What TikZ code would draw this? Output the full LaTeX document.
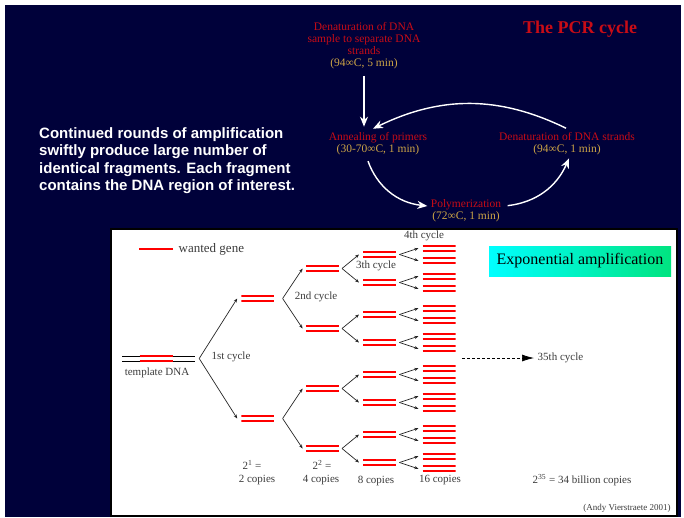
\documentclass[tikz,border=0pt]{standalone}
\usepackage{fontspec}
\setmainfont{Liberation Serif}
\newfontfamily\arialfont{Liberation Sans}
\usepackage{tikz}
\usetikzlibrary{shapes,arrows.meta,positioning}
\definecolor{navy}{RGB}{0,1,58}
\definecolor{pcrred}{RGB}{200,12,22}
\definecolor{gold}{RGB}{205,165,70}
\definecolor{ink}{RGB}{60,60,60}
\definecolor{expgreen}{RGB}{0,228,128}
\newcommand{\heat}[1]{\textcolor{gold}{#1}}

\tikzset{
  gene/.style={minimum width=33pt,minimum height=9pt,inner sep=0pt,
    path picture={
      \draw[red,line width=2.3pt] ([yshift=2.5pt]path picture bounding box.west) -- ([yshift=2.5pt]path picture bounding box.east);
      \draw[red,line width=2.3pt] ([yshift=-2.5pt]path picture bounding box.west) -- ([yshift=-2.5pt]path picture bounding box.east);
    }},
  tpl/.style={minimum width=73pt,minimum height=9pt,inner sep=0pt,
    path picture={
      \draw[black,line width=0.9pt] ([yshift=2.5pt]path picture bounding box.west) -- ([yshift=2.5pt]path picture bounding box.east);
      \draw[black,line width=0.9pt] ([yshift=-2.5pt]path picture bounding box.west) -- ([yshift=-2.5pt]path picture bounding box.east);
      \draw[red,line width=2.3pt] ([shift={(-19pt,2.5pt)}]path picture bounding box.center) -- ++(33pt,0pt);
      \draw[red,line width=2.3pt] ([shift={(-19pt,-2.5pt)}]path picture bounding box.center) -- ++(33pt,0pt);
    }},
  fork/.style={draw=black!85,line width=0.7pt,-{Stealth[length=4pt,width=3.2pt]}},
  cyc/.style={draw=white,line width=1.4pt,-{Stealth[length=10pt,width=8pt]}},
  cyclestep/.style={text=pcrred,align=center,font=\fontsize{11.5}{12}\selectfont},
  lbl/.style={text=ink,inner sep=0.5pt},
  expbox/.style={left color=cyan,right color=expgreen,minimum width=182pt,minimum height=30pt,
    font=\fontsize{16}{18}\selectfont,text=black}
}

\begin{document}
\begin{tikzpicture}[x=1pt,y=-1pt,font=\fontsize{11}{12}\selectfont]
  % slide background
  \fill[white] (0,0) rectangle (684,517);
  \fill[navy] (5,5) rectangle (681,517);

  % PCR cycle
  \node[text=pcrred,font=\bfseries\fontsize{18}{20}\selectfont] (title) at (580,29) {The PCR cycle};
  \node[cyclestep] (den0) at (364,46) {Denaturation of DNA\\sample to separate DNA\\strands\\\heat{(94∞C, 5 min)}};
  \node[cyclestep] (ann) at (378,143.5) {Annealing of primers\\\heat{(30-70∞C, 1 min)}};
  \node[cyclestep] (dens) at (567,143.5) {Denaturation of DNA strands\\\heat{(94∞C, 1 min)}};
  \node[cyclestep] (pol) at (466,211) {Polymerization\\\heat{(72∞C, 1 min)}};
  \draw[cyc,shorten <=3pt] (den0.south) -- ([yshift=2pt]den0.south |- ann.north);
  \draw[cyc,shorten <=1pt] (dens.north) to[bend right=26] ([xshift=-5pt]ann.north);
  \draw[cyc,shorten <=3pt] ([xshift=-11pt]ann.south) to[bend right=32] ([yshift=5pt]pol.west);
  \draw[cyc,shorten <=3pt] ([yshift=5pt]pol.east) to[bend right=30] ([xshift=2pt]dens.south);

  \node[text=white,font=\arialfont\bfseries\fontsize{15}{17.3}\selectfont,align=left,anchor=west,inner sep=0pt] (para) at (39,160.5)
    {Continued rounds of amplification\\swiftly produce large number of\\identical fragments. Each fragment\\contains the DNA region of interest.};

  % amplification panel
  \filldraw[fill=white,draw=black,line width=1.5pt] (111,229) rectangle (677,516);
  \node[lbl,anchor=west,font=\fontsize{13}{14}\selectfont] (leg) at (178,249) {wanted gene};
  \draw[red,line width=2.4pt] ([xshift=-5pt]leg.west) -- ++(-34,0);

  \node[tpl] (tpl) at (158.5,358.5) {};
  \node[lbl] (tpllbl) at (157,373) {template DNA};

  \foreach \i/\s in {1/1,2/-1}{
    \node[gene,right=46pt of tpl,yshift=\s*60pt] (g1-\i) {};
    \draw[fork] ([xshift=4pt]tpl.east) -- ([xshift=-4pt]g1-\i.west);
  }
  \foreach \g/\n/\gap/\dy/\vx/\tx in {2/4/31/30/8/3,3/8/24/14/3/4,4/16/26/6.25/3/4}{
    \pgfmathtruncatemacro\q{\g-1}
    \foreach \i in {1,...,\n}{
      \pgfmathtruncatemacro\p{(\i+1)/2}
      \pgfmathtruncatemacro\s{2*mod(\i,2)-1}
      \node[gene,right=\gap pt of g\q-\p,yshift=\s*\dy pt] (g\g-\i) {};
      \draw[fork] ([xshift=\vx pt]g\q-\p.east) -- ([xshift=-\tx pt]g\g-\i.west);
    }
  }

  \node[lbl] (c1) at (231,357) {1st cycle};
  \node[lbl] (c2) at (316,297) {2nd cycle};
  \node[lbl] (c3) at (376,266) {3th cycle};
  \node[lbl] (c4) at (424,236) {4th cycle};

  \node[lbl] (n1) at (252,465) {2\textsuperscript{1} =};
  \node[lbl] (n2) at (322,465) {2\textsuperscript{2} =};
  \node[lbl] (k1) at (257,480) {2 copies};
  \node[lbl] (k2) at (321,480) {4 copies};
  \node[lbl] (k3) at (376,481) {8 copies};
  \node[lbl] (k4) at (440,480) {16 copies};
  \node[lbl] (k35) at (582,480) {2\textsuperscript{35} = 34 billion copies};

  \node[lbl,anchor=west] (c35) at (537,358) {35th cycle};
  \coordinate (dash0) at (462,358);
  \draw[black,line width=0.7pt,dash pattern=on 3pt off 2pt,-{Latex[length=12pt,width=7pt]}] (dash0) -- ([xshift=-3pt]c35.west);

  \node[expbox] (exp) at (580,261) {Exponential amplification};
  \node[lbl,font=\fontsize{9}{10}\selectfont] (credit) at (627,508) {(Andy Vierstraete 2001)};
\end{tikzpicture}
\end{document}
